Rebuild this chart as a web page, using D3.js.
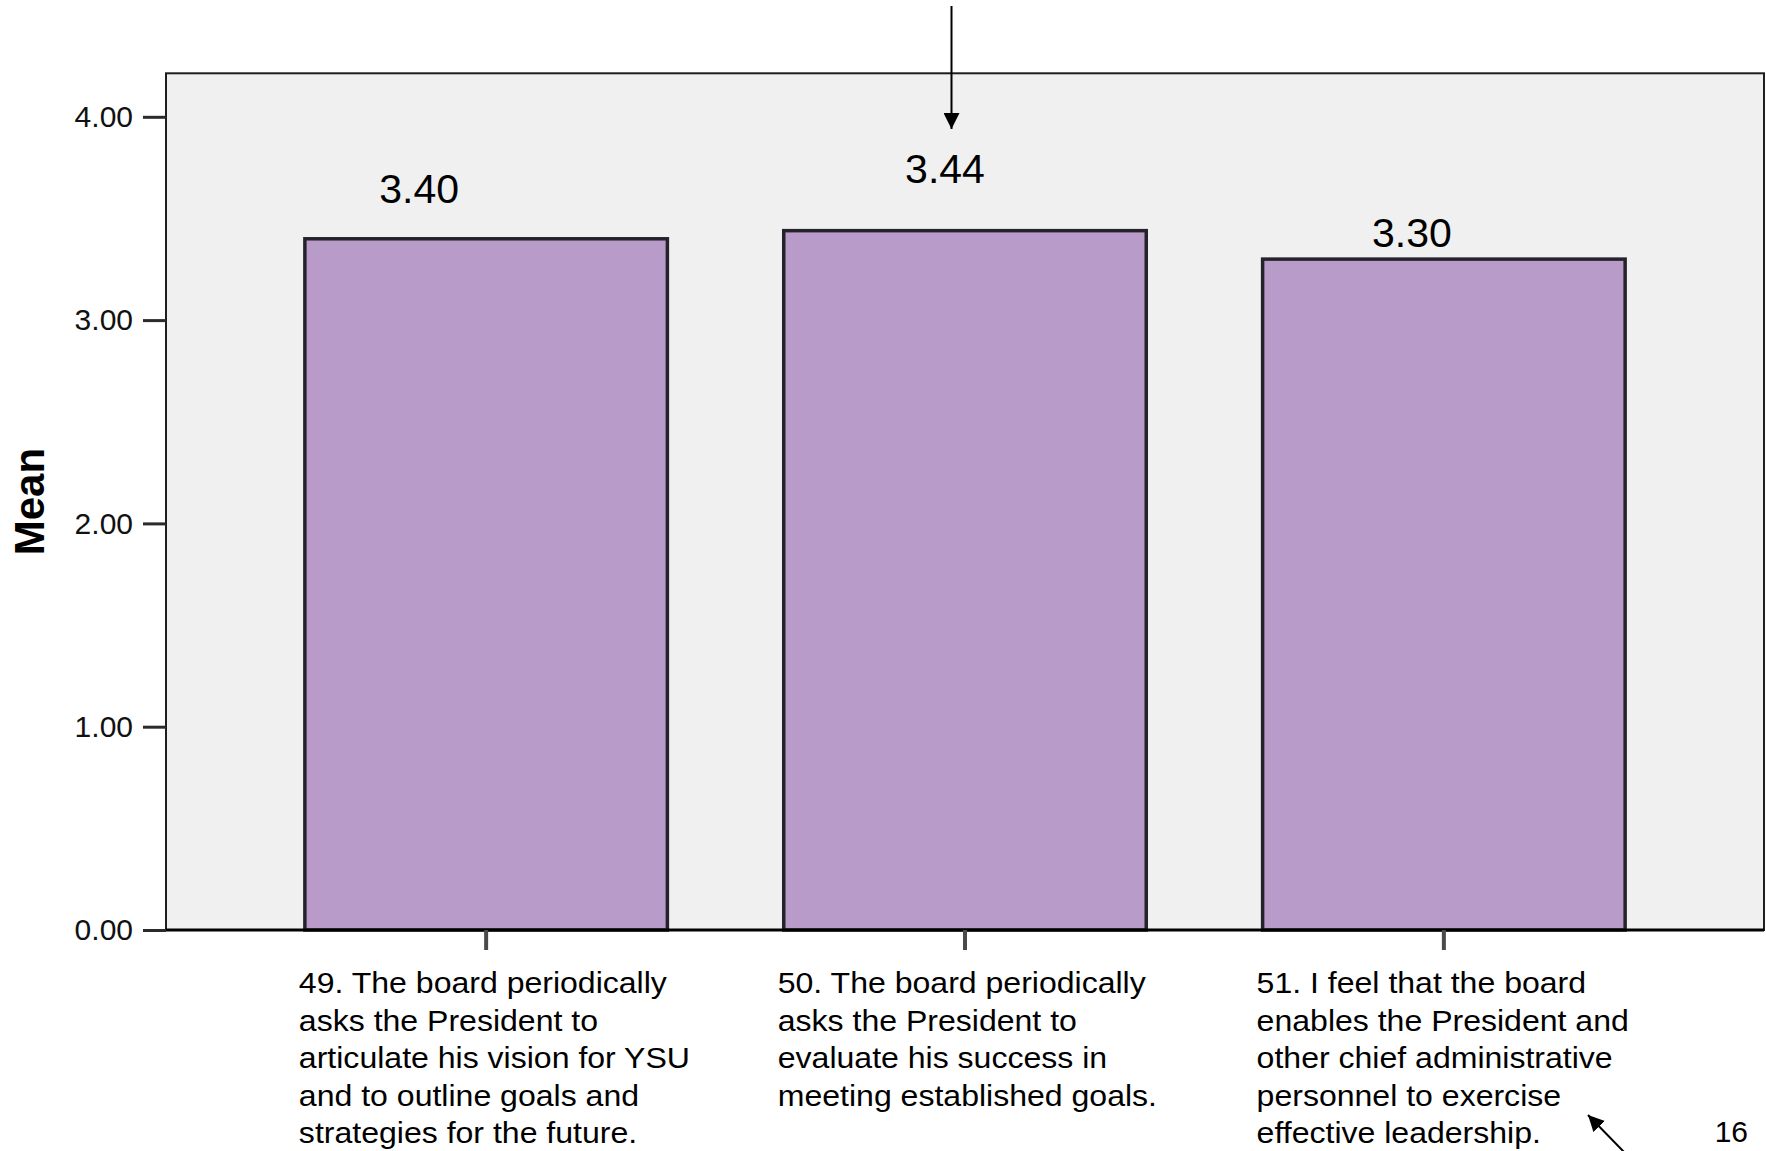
<!DOCTYPE html>
<html>
<head>
<meta charset="utf-8">
<script src="https://cdn.jsdelivr.net/npm/d3@7"></script>
<style>
  html, body { margin: 0; padding: 0; background: #ffffff; }
  svg { display: block; }
  text { font-family: "Liberation Sans", Arial, Helvetica, sans-serif; }
</style>
</head>
<body>
<svg id="chart" width="1766" height="1151"></svg>
<script>
// ---- data ----
const categories = ["49", "50", "51"];
const values = [3.40, 3.44, 3.30];
const valueLabels = ["3.40", "3.44", "3.30"];
const categoryLines = [
  ["49. The board periodically", "asks the President to", "articulate his vision for YSU", "and to outline goals and", "strategies for the future."],
  ["50. The board periodically", "asks the President to", "evaluate his success in", "meeting established goals."],
  ["51. I feel that the board", "enables the President and", "other chief administrative", "personnel to exercise", "effective leadership."]
];
const yTicks = [0, 1, 2, 3, 4];
const yTitle = "Mean";
const pageNumber = "16";

// ---- layout ----
const W = 1766, H = 1151;
const plot = { left: 166, right: 1764, top: 73.3, bottom: 930 };
const yMax = 4.214;

// hand-placed value labels: shift from bar centre / bar top
const labelShift = [
  { dx: -67, dy: -35.5 },
  { dx: -20, dy: -47.5 },
  { dx: -32, dy: -12.5 }
];

const svg = d3.select("#chart");

const x = d3.scaleBand()
  .domain(categories)
  .range([plot.left, plot.right])
  .paddingInner(0.243)
  .paddingOuter(0.29);

const y = d3.scaleLinear()
  .domain([0, yMax])
  .range([plot.bottom, plot.top]);

// plot background and frame
svg.append("rect")
  .attr("x", plot.left).attr("y", plot.top)
  .attr("width", plot.right - plot.left)
  .attr("height", plot.bottom - plot.top)
  .attr("fill", "#f0f0f0")
  .attr("stroke", "#1e1e1e")
  .attr("stroke-width", 2);

// bars
svg.append("g").selectAll("rect")
  .data(values)
  .join("rect")
  .attr("x", (d, i) => x(categories[i]))
  .attr("y", d => y(d))
  .attr("width", x.bandwidth())
  .attr("height", d => y(0) - y(d))
  .attr("fill", "#b89bc8")
  .attr("stroke", "#26222b")
  .attr("stroke-width", 3.5);

// x axis baseline
svg.append("line")
  .attr("x1", plot.left).attr("x2", plot.right)
  .attr("y1", y(0)).attr("y2", y(0))
  .attr("stroke", "#000").attr("stroke-width", 3);

// y axis
const yAxis = svg.append("g")
  .attr("transform", `translate(${plot.left},0)`)
  .call(d3.axisLeft(y)
    .tickValues(yTicks)
    .tickFormat(d3.format(".2f"))
    .tickSize(23)
    .tickPadding(10));
yAxis.select(".domain").remove();
yAxis.selectAll(".tick line").attr("stroke", "#2b2b2b").attr("stroke-width", 3);
yAxis.selectAll(".tick text")
  .attr("fill", "#111")
  .style("font-size", "30px")
  .style("font-family", "'Liberation Sans', Arial, sans-serif");

// x axis ticks
const xAxis = svg.append("g")
  .attr("transform", `translate(0,${y(0)})`)
  .call(d3.axisBottom(x).tickSize(20).tickFormat(""));
xAxis.select(".domain").remove();
xAxis.selectAll(".tick line").attr("stroke", "#4a4a4a").attr("stroke-width", 4);

// value labels
svg.append("g").selectAll("text")
  .data(values)
  .join("text")
  .attr("x", (d, i) => x(categories[i]) + x.bandwidth() / 2 + labelShift[i].dx)
  .attr("y", (d, i) => y(d) + labelShift[i].dy)
  .attr("text-anchor", "middle")
  .attr("fill", "#000")
  .style("font-size", "41px")
  .text((d, i) => valueLabels[i]);

// category labels (wrapped, left aligned under each bar)
const lineGap = 37.4;
const catG = svg.append("g");
categoryLines.forEach((lines, i) => {
  lines.forEach((ln, j) => {
    catG.append("text")
      .attr("transform", `translate(${x(categories[i]) - 6},${y(0) + 63.3 + j * lineGap}) scale(1.105,1)`)
      .attr("fill", "#000")
      .style("font-size", "29px")
      .text(ln);
  });
});

// y axis title
svg.append("text")
  .attr("transform", `translate(43.5,${(plot.top + plot.bottom) / 2}) rotate(-90)`)
  .attr("text-anchor", "middle")
  .attr("fill", "#000")
  .style("font-size", "42px")
  .style("font-weight", "bold")
  .text(yTitle);

// annotation arrows
const defs = svg.append("defs");
defs.append("marker")
  .attr("id", "head")
  .attr("viewBox", "0 0 16 16")
  .attr("refX", 16).attr("refY", 8)
  .attr("markerWidth", 16).attr("markerHeight", 16)
  .attr("markerUnits", "userSpaceOnUse")
  .attr("orient", "auto")
  .append("path")
  .attr("d", "M0,0 L16,8 L0,16 Z")
  .attr("fill", "#000");

const arrows = [
  { x1: 951.5, y1: 6, x2: 951.5, y2: 129 },
  { x1: 1625, y1: 1153, x2: 1588, y2: 1115 }
];
svg.append("g").selectAll("line")
  .data(arrows)
  .join("line")
  .attr("x1", d => d.x1).attr("y1", d => d.y1)
  .attr("x2", d => d.x2).attr("y2", d => d.y2)
  .attr("stroke", "#000")
  .attr("stroke-width", 2)
  .attr("marker-end", "url(#head)");

// page number
svg.append("text")
  .attr("x", 1748).attr("y", 1141.7)
  .attr("text-anchor", "end")
  .attr("fill", "#000")
  .style("font-size", "30px")
  .text(pageNumber);
</script>
</body>
</html>
